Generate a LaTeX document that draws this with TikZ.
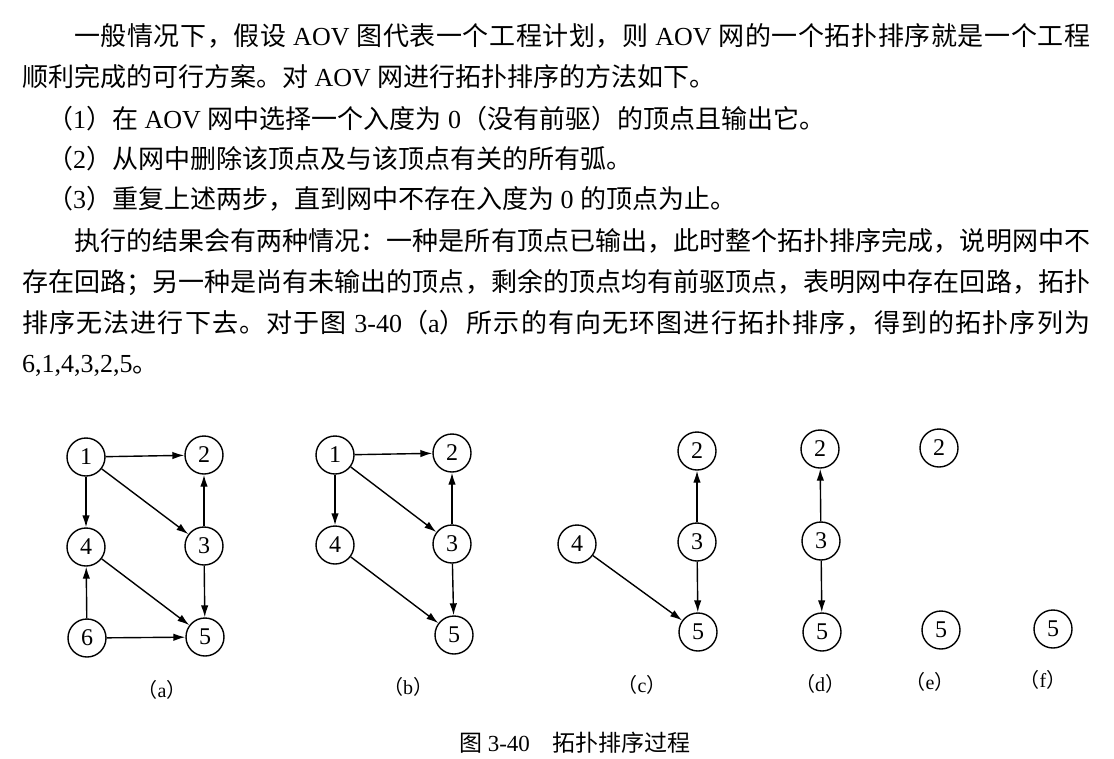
\documentclass[tikz,border=0pt]{standalone}
\usepackage{fontspec}
\setmainfont{Liberation Serif}
\newfontfamily\cjk{Noto Sans CJK SC}
\usetikzlibrary{arrows.meta}

% stretchable glue between CJK characters, so that a line can be justified
\makeatletter
\count@="3000 \loop\ifnum\count@<"3040 \XeTeXcharclass\count@=100 \advance\count@\@ne\repeat
\count@="4E00 \loop\ifnum\count@<"A000 \XeTeXcharclass\count@=100 \advance\count@\@ne\repeat
\count@="FF00 \loop\ifnum\count@<"FFF0 \XeTeXcharclass\count@=100 \advance\count@\@ne\repeat
\makeatother
\XeTeXinterchartoks 100 100 = {\hskip 0pt plus 4pt\relax}
\XeTeXinterchartokenstate=1

\newcommand\zh[1]{{\cjk #1}}

\tikzset{
  body/.style={anchor=base west, inner sep=0pt, font=\fontsize{26}{30}\selectfont},
  vtx/.style={circle, draw, line width=1.4pt, minimum size=38pt, inner sep=0pt,
              font=\fontsize{24}{28}\selectfont},
  arc/.style={line width=1.4pt, -{Latex[length=12pt,width=7.5pt]}},
  sub/.style={inner sep=0pt, font=\fontsize{20}{24}\selectfont},
  figcaption/.style={inner sep=0pt, font=\fontsize{23}{27}\selectfont}
}

\begin{document}
\begin{tikzpicture}[x=1pt, y=-1pt]
\useasboundingbox (0,0) rectangle (1114,758);

% ---- running text ----
\node[body] (t1) at (74,45) {\hbox to 1016pt{\zh{一般情况下，假设} AOV \zh{图代表一个工程计划，则} AOV \zh{网的一个拓扑排序就是一个工程}}};
\node[body] (t2) at (22,86) {\zh{顺利完成的可行方案。对} AOV \zh{网进行拓扑排序的方法如下。}};
\node[body] (t3) at (47,128) {\zh{（}1\zh{）在} AOV \zh{网中选择一个入度为} 0\zh{（没有前驱）的顶点且输出它。}};
\node[body] (t4) at (47,168) {\zh{（}2\zh{）从网中删除该顶点及与该顶点有关的所有弧。}};
\node[body] (t5) at (47,208) {\zh{（}3\zh{）重复上述两步，直到网中不存在入度为} 0 \zh{的顶点为止。}};
\node[body] (t6) at (74,250) {\hbox to 1016pt{\zh{执行的结果会有两种情况：一种是所有顶点已输出，此时整个拓扑排序完成，说明网中不}}};
\node[body] (t7) at (22,291) {\hbox to 1068pt{\zh{存在回路；另一种是尚有未输出的顶点，剩余的顶点均有前驱顶点，表明网中存在回路，拓扑}}};
\node[body] (t8) at (22,332) {\hbox to 1068pt{\zh{排序无法进行下去。对于图} 3-40\zh{（}a\zh{）所示的有向无环图进行拓扑排序，得到的拓扑序列为}}};
\node[body] (t9) at (22,372) {6,1,4,3,2,5\zh{。}};

% ---- (a) ----
\node[vtx] (a1) at (86,457) {1};
\node[vtx] (a2) at (204,455) {2};
\node[vtx] (a4) at (86,547) {4};
\node[vtx] (a3) at (204,546) {3};
\node[vtx] (a6) at (87,638) {6};
\node[vtx] (a5) at (205,637) {5};
\draw[arc] (a1) -- (a2);
\draw[arc] (a1) -- (a4);
\draw[arc] (a1) -- (a3);
\draw[arc] (a3) -- (a2);
\draw[arc] (a3) -- (a5);
\draw[arc] (a4) -- (a5);
\draw[arc] (a6) -- (a4);
\draw[arc] (a6) -- (a5);
\node[sub] (la) at (162,690) {\zh{（}a\zh{）}};

% ---- (b) ----
\node[vtx] (b1) at (335,455) {1};
\node[vtx] (b2) at (452,453) {2};
\node[vtx] (b4) at (335,545) {4};
\node[vtx] (b3) at (452,544) {3};
\node[vtx] (b5) at (454,635) {5};
\draw[arc] (b1) -- (b2);
\draw[arc] (b1) -- (b4);
\draw[arc] (b1) -- (b3);
\draw[arc] (b3) -- (b2);
\draw[arc] (b3) -- (b5);
\draw[arc] (b4) -- (b5);
\node[sub] (lb) at (408,687) {\zh{（}b\zh{）}};

% ---- (c) ----
\node[vtx] (c2) at (697,451) {2};
\node[vtx] (c3) at (697,542) {3};
\node[vtx] (c4) at (577,544) {4};
\node[vtx] (c5) at (698,632) {5};
\draw[arc] (c3) -- (c2);
\draw[arc] (c3) -- (c5);
\draw[arc] (c4) -- (c5);
\node[sub] (lc) at (642,685) {\zh{（}c\zh{）}};

% ---- (d) ----
\node[vtx] (d2) at (820,449) {2};
\node[vtx] (d3) at (821,541) {3};
\node[vtx] (d5) at (822,632) {5};
\draw[arc] (d3) -- (d2);
\draw[arc] (d3) -- (d5);
\node[sub] (ld) at (820,684) {\zh{（}d\zh{）}};

% ---- (e) ----
\node[vtx] (e2) at (939,448) {2};
\node[vtx] (e5) at (941,630) {5};
\node[sub] (le) at (930,682) {\zh{（}e\zh{）}};

% ---- (f) ----
\node[vtx] (f5) at (1053,629) {5};
\node[sub] (lf) at (1043,680) {\zh{（}f\zh{）}};

% ---- caption ----
\node[figcaption] (cap) at (575,743) {\zh{图} 3-40\quad\zh{拓扑排序过程}};
\end{tikzpicture}
\end{document}
